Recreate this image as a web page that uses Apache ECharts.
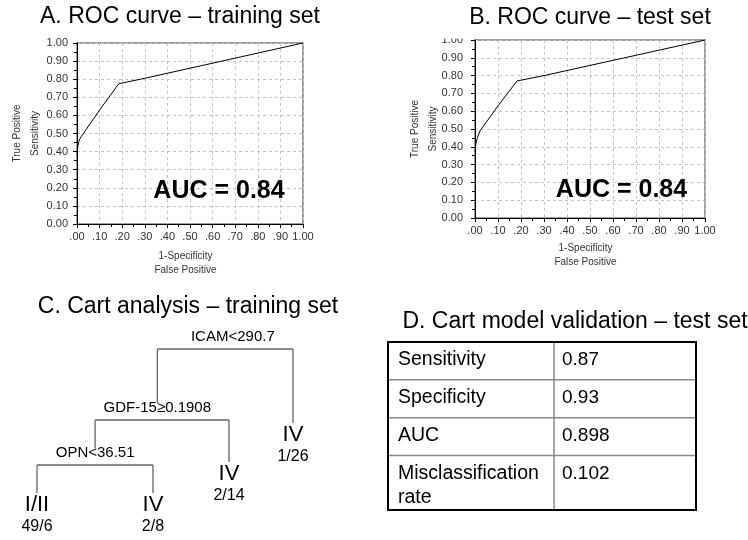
<!DOCTYPE html>
<html><head><meta charset="utf-8">
<script src="https://cdn.jsdelivr.net/npm/echarts@6/dist/echarts.min.js"></script>
<style>html,body{margin:0;padding:0;background:#fff}#c{width:748px;height:540px}</style>
</head><body><div id="c"></div>
<script>
// ---------- Data ----------
// ROC curve A (training set)
const rocTrainFpr = [0, 0.004, 0.01, 0.02, 0.10, 0.185, 0.30, 1.0];
const rocTrainTpr = [0.38, 0.43, 0.465, 0.485, 0.63, 0.775, 0.805, 1.0];
// ROC curve B (test set)
const rocTestFpr = [0, 0.004, 0.01, 0.022, 0.10, 0.183, 0.30, 1.0];
const rocTestTpr = [0.37, 0.42, 0.45, 0.49, 0.63, 0.77, 0.80, 1.0];
const aucTrain = '0.84';
const aucTest = '0.84';
const xTickLabels = ['.00','.10','.20','.30','.40','.50','.60','.70','.80','.90','1.00'];
const yTickLabels = ['0.00','0.10','0.20','0.30','0.40','0.50','0.60','0.70','0.80','0.90','1.00'];

// CART tree (C)
const treeLabels = ['ICAM<290.7', 'GDF-15\u22650.1908', 'IV', 'OPN<36.51', 'IV', 'I/II', 'IV'];
const treeCounts = ['', '', '1/26', '', '2/14', '49/6', '2/8'];
const treeParent = [-1, 0, 0, 1, 1, 3, 3];
const treeX = [0.765, 0.47, 1.0, 0.227, 0.75, 0.0, 0.453];
const treeY = [0.01, 0.365, 0.465, 0.59, 0.66, 0.815, 0.815];

// Validation table (D)
const tableLabels = ['Sensitivity', 'Specificity', 'AUC', 'Misclassification\nrate'];
const tableValues = ['0.87', '0.93', '0.898', '0.102'];

// ---------- Chart ----------
const FONT = 'Arial, "Liberation Sans", sans-serif';
const chart = echarts.init(document.getElementById('c'), null, {renderer: 'canvas'});

function rocX(gi, margin, nameGap) {
  return {
    gridIndex: gi, type: 'value', min: 0, max: 1, interval: 0.1,
    axisLine: {show: true, onZero: false, lineStyle: {color: '#000', width: 1}},
    axisTick: {show: true, length: 4, lineStyle: {color: '#000'}},
    minorTick: {show: true, splitNumber: 2, length: 3, lineStyle: {color: '#000'}},
    axisLabel: {margin: margin, fontSize: 11, color: '#333', fontFamily: FONT,
      formatter: v => xTickLabels[Math.round(v * 10)]},
    splitLine: {show: true, lineStyle: {type: [3, 3], color: '#c4c4c4', width: 1}},
    name: '1-Specificity\nFalse Positive', nameLocation: 'middle', nameGap: nameGap,
    nameTextStyle: {fontSize: 10, color: '#333', fontFamily: FONT, lineHeight: 14, padding: [0, 9, 0, 0]}
  };
}
function rocY(gi, margin, nameGap) {
  return {
    gridIndex: gi, type: 'value', min: 0, max: 1, interval: 0.1,
    axisLine: {show: true, onZero: false, lineStyle: {color: '#000', width: 1}},
    axisTick: {show: true, length: 4, lineStyle: {color: '#000'}},
    minorTick: {show: true, splitNumber: 2, length: 3, lineStyle: {color: '#000'}},
    axisLabel: {margin: margin, fontSize: 11, color: '#333', fontFamily: FONT,
      formatter: v => yTickLabels[Math.round(v * 10)]},
    splitLine: {show: true, lineStyle: {type: [3, 3], color: '#c4c4c4', width: 1}},
    name: 'True Positive\nSensitivity', nameLocation: 'middle', nameGap: nameGap, nameRotate: 90,
    nameMoveOverlap: false,
    nameTextStyle: {fontSize: 10, color: '#333', fontFamily: FONT, lineHeight: 18}
  };
}
function hiddenAxis(gi, inverse) {
  return {gridIndex: gi, type: 'value', min: 0, max: 1, show: false, inverse: !!inverse};
}

const rowLines = tableLabels.map(t => t.split('\n').length);
const rowUnits = rowLines.map(n => 21 + 16.5 * n);
const rowTotal = rowUnits.reduce((a, b) => a + b, 0);
const COL_SPLIT = 0.539;

const option = {
  animation: false,
  backgroundColor: '#fff',
  title: [
    {text: 'A. ROC curve \u2013 training set', left: 175, top: 0, textAlign: 'center'},
    {text: 'B. ROC curve \u2013 test set', left: 585, top: 1, textAlign: 'center'},
    {text: 'C. Cart analysis \u2013 training set', left: 183, top: 290, textAlign: 'center'},
    {text: 'D. Cart model validation \u2013 test set', left: 570, top: 305, textAlign: 'center'}
  ].map(t => Object.assign(t, {textStyle: {fontSize: 23, fontWeight: 'normal', color: '#000', fontFamily: FONT}})),
  grid: [
    {left: 77, top: 43, width: 226, height: 181, show: true, borderColor: '#808080', borderWidth: 1.5, backgroundColor: 'transparent', outerBoundsMode: 'none'},
    {left: 475, top: 40, width: 230, height: 178, show: true, borderColor: '#808080', borderWidth: 1.5, backgroundColor: 'transparent', outerBoundsMode: 'none'},
    {left: 37, top: 330, width: 256, height: 200, outerBoundsMode: 'none'},
    {left: 388, top: 342, width: 308, height: 168, outerBoundsMode: 'none'}
  ],
  xAxis: [rocX(0, 7, 25), rocX(1, 7, 23), hiddenAxis(2), hiddenAxis(3)],
  yAxis: [rocY(0, 9, 33), rocY(1, 12, 33), hiddenAxis(2, true), hiddenAxis(3, true)],
  graphic: [
    {type: 'text', x: 219, y: 191, z: 10, style: {text: 'AUC = ' + aucTrain, fontSize: 25, fontWeight: 'bold', fontFamily: FONT, fill: '#000', align: 'center', verticalAlign: 'middle'}},
    {type: 'text', x: 621.5, y: 190, z: 10, style: {text: 'AUC = ' + aucTest, fontSize: 25, fontWeight: 'bold', fontFamily: FONT, fill: '#000', align: 'center', verticalAlign: 'middle'}},
    {type: 'rect', shape: {x: 438, y: 26, width: 35, height: 12.5}, style: {fill: '#fff'}, z: 100}
  ],
  series: [
    {type: 'line', xAxisIndex: 0, yAxisIndex: 0, showSymbol: false, symbol: 'none',
      lineStyle: {color: '#000', width: 1}, data: rocTrainFpr.map((x, i) => [x, rocTrainTpr[i]])},
    {type: 'line', xAxisIndex: 1, yAxisIndex: 1, showSymbol: false, symbol: 'none',
      lineStyle: {color: '#000', width: 1}, data: rocTestFpr.map((x, i) => [x, rocTestTpr[i]])},
    {
      type: 'custom', xAxisIndex: 2, yAxisIndex: 2, silent: true,
      data: treeX.map((x, i) => [x, treeY[i]]),
      renderItem: function (params, api) {
        const i = params.dataIndex;
        const p = api.coord([treeX[i], treeY[i]]);
        const children = [];
        treeParent.forEach((par, j) => { if (par === i) children.push(j); });
        const ls = {stroke: '#666', lineWidth: 1.3};
        const els = [];
        if (children.length) {
          const labelY = p[1] + 5;
          const barY = labelY + 12;
          els.push({type: 'text', x: p[0], y: labelY, style: {text: treeLabels[i], fontSize: 15, fontFamily: FONT, fill: '#000', align: 'center', verticalAlign: 'middle'}});
          const xs = children.map(j => api.coord([treeX[j], 0])[0]);
          els.push({type: 'line', shape: {x1: Math.min.apply(null, xs), y1: barY, x2: Math.max.apply(null, xs), y2: barY}, style: ls});
        } else {
          const labelY = p[1] + 12;
          els.push({type: 'text', x: p[0], y: labelY, style: {text: treeLabels[i], fontSize: 22, fontFamily: FONT, fill: '#000', align: 'center', verticalAlign: 'middle'}});
          els.push({type: 'text', x: p[0], y: labelY + 22, style: {text: treeCounts[i], fontSize: 16, fontFamily: FONT, fill: '#000', align: 'center', verticalAlign: 'middle'}});
        }
        const par = treeParent[i];
        if (par >= 0) {
          const pp = api.coord([treeX[par], treeY[par]]);
          const parBarY = pp[1] + 17;
          els.push({type: 'line', shape: {x1: p[0], y1: parBarY, x2: p[0], y2: p[1]}, style: ls});
        }
        return {type: 'group', children: els};
      }
    },
    {
      type: 'custom', xAxisIndex: 3, yAxisIndex: 3, silent: true,
      data: [[0, 0]],
      renderItem: function (params, api) {
        const tl = api.coord([0, 0]);
        const br = api.coord([1, 1]);
        const divX = api.coord([COL_SPLIT, 0])[0];
        const els = [];
        let acc = 0;
        tableLabels.forEach((lab, r) => {
          const top = api.coord([0, acc / rowTotal])[1];
          if (r > 0) {
            els.push({type: 'line', shape: {x1: tl[0], y1: top, x2: br[0], y2: top}, style: {stroke: '#888', lineWidth: 1.5}});
          }
          lab.split('\n').forEach((line, k) => {
            els.push({type: 'text', x: tl[0] + 10, y: top + 18 + k * 24, style: {text: line, fontSize: 19.5, fontFamily: FONT, fill: '#000', align: 'left', verticalAlign: 'middle'}});
          });
          els.push({type: 'text', x: divX + 8, y: top + 18, style: {text: tableValues[r], fontSize: 19, fontFamily: FONT, fill: '#000', align: 'left', verticalAlign: 'middle'}});
          acc += rowUnits[r];
        });
        els.push({type: 'line', shape: {x1: divX, y1: tl[1], x2: divX, y2: br[1]}, style: {stroke: '#888', lineWidth: 1.5}});
        els.push({type: 'rect', shape: {x: tl[0], y: tl[1], width: br[0] - tl[0], height: br[1] - tl[1]}, style: {fill: 'none', stroke: '#000', lineWidth: 2}});
        return {type: 'group', children: els};
      }
    }
  ]
};
chart.setOption(option);
</script>
</body></html>
